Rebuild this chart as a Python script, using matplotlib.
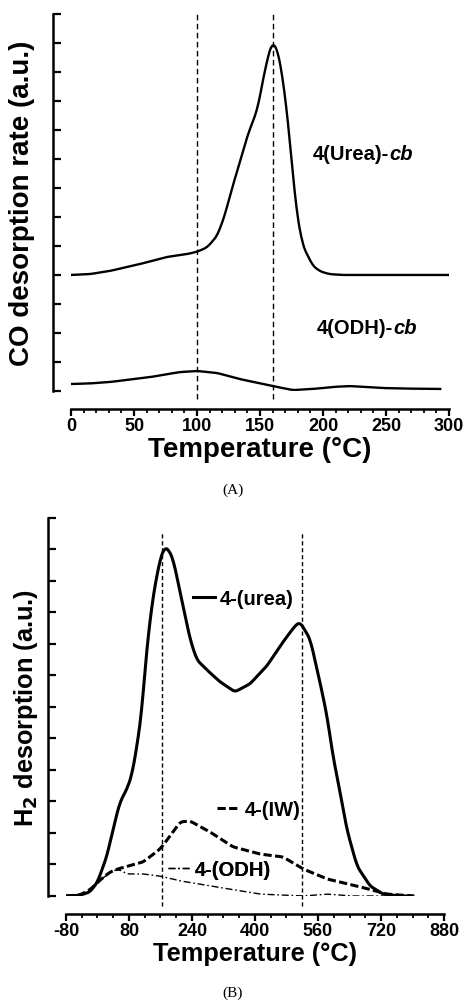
import matplotlib
matplotlib.use('Agg')
from matplotlib import pyplot as plt
import numpy as np

plt.rcParams['font.family'] = ['Liberation Sans', 'DejaVu Sans']
plt.rcParams['font.weight'] = 'bold'
plt.rcParams['axes.unicode_minus'] = False

# ---- panel A: CO desorption ----
t_urea = [0, 15, 31, 55, 76, 92, 100, 108, 116, 122, 126, 134, 140, 148, 154, 159.5, 164.5,
          170, 174, 179, 184, 192, 198, 205, 215, 240, 270, 300]
co_urea = [4.0, 4.03, 4.14, 4.38, 4.62, 4.72, 4.8, 4.95, 5.35, 6.05, 6.72, 7.9, 8.8, 9.72,
           11.1, 12.05, 11.7, 10.17, 8.45, 6.17, 5.0, 4.31, 4.12, 4.03, 4.0, 4.0, 4.0, 4.0]
t_odh = [0, 15, 31, 63, 86, 100, 116, 134, 160, 176, 192, 208, 221, 248, 270, 293]
co_odh = [0.24, 0.26, 0.31, 0.48, 0.65, 0.69, 0.62, 0.41, 0.17, 0.03, 0.07, 0.14, 0.17, 0.1,
          0.08, 0.07]
lines_a = [100, 160]

# ---- panel B: H2 desorption ----
t_b_urea = [-80, -45, -19, 0, 24, 39, 57, 75, 88, 103, 113, 125, 141, 159, 171, 180, 192, 214,
            235, 252, 281, 311, 349, 387, 430, 471, 500, 514, 540, 565, 583, 598, 616, 633,
            659, 692, 725, 768, 801]
h_urea = [0, 0.02, 0.13, 0.44, 1.27, 2.1, 2.98, 3.4, 3.87, 4.98, 5.94, 7.84, 9.5, 10.7, 11.08,
          11.0, 10.7, 9.4, 8.16, 7.5, 7.14, 6.8, 6.48, 6.73, 7.3, 8.06, 8.55, 8.7, 8.16, 6.79,
          5.71, 4.44, 3.3, 2.13, 0.95, 0.32, 0.06, 0.0, 0.0]
t_iw = [-80, -45, -19, 6, 32, 52, 116, 159, 184, 210, 235, 286, 344, 413, 471, 522, 583,
        667, 735, 801]
h_iw = [0, 0.03, 0.2, 0.5, 0.76, 0.86, 1.08, 1.49, 1.9, 2.35, 2.38, 2.03, 1.56, 1.33, 1.24,
        0.86, 0.54, 0.29, 0.06, 0.0]
t_b_odh = [-80, -45, -19, 6, 39, 55, 75, 116, 159, 210, 286, 413, 522, 583, 641, 801]
h_odh = [0, 0.03, 0.16, 0.5, 0.8, 0.84, 0.7, 0.7, 0.63, 0.48, 0.32, 0.06, 0.0, 0.06, 0.0, 0.0]
lines_b = [165, 520]


def smooth(x, y, n=400):
    xs = np.linspace(x[0], x[-1], n)
    ys = np.interp(xs, x, y)
    k = np.ones(7) / 7
    ys = np.convolve(np.pad(ys, 3, mode='edge'), k, mode='valid')
    return xs, ys


def style_axes(ax):
    for s in ['top', 'right']:
        ax.spines[s].set_visible(False)
    for s in ['left', 'bottom']:
        ax.spines[s].set_linewidth(1.8)
    ax.spines['left'].set_position(('outward', 13))
    ax.spines['bottom'].set_position(('outward', 13))
    ax.tick_params(axis='y', direction='in', length=6, width=1.6, labelleft=False)
    ax.tick_params(axis='x', which='major', direction='out', length=5, width=1.6,
                   labelsize=13, pad=1)
    ax.tick_params(axis='x', which='minor', direction='out', length=3, width=1.3)


fig = plt.figure(figsize=(4.66, 10.03), dpi=100)

# panel A
ax1 = fig.add_axes([0.1524, 0.6092, 0.8112, 0.3759])
x, y = smooth(t_urea, co_urea)
ax1.plot(x, y, color='black', lw=1.7)
x, y = smooth(t_odh, co_odh)
ax1.plot(x, y, color='black', lw=1.7)
for v in lines_a:
    ax1.axvline(v, ymin=-0.022, ymax=1.008, color='black', lw=1.0, ls=(0, (4, 2.5)),
                clip_on=False)
ax1.set_xlim(0, 300)
ax1.set_ylim(0, 13)
ax1.set_xticks(np.arange(0, 301, 50))
ax1.set_xticks(np.arange(0, 301, 10), minor=True)
ax1.set_yticks(np.arange(0, 14, 1))
style_axes(ax1)

for label, xpos, ypos in [('4(Urea)-', 192, 8.0), ('4(ODH)-', 195, 2.0)]:
    t1 = ax1.text(xpos, ypos, label, fontsize=14.5, fontweight='bold', ha='left', va='baseline')
    ax1.annotate('cb', xy=(1, 0), xycoords=t1, fontsize=14.5, fontweight='bold',
                 style='italic', ha='left', va='bottom')

ax1.set_xlabel('Temperature (°C)', fontsize=20, fontweight='bold', labelpad=1)
ax1.set_ylabel('CO desorption rate (a.u.)', fontsize=20, fontweight='bold', labelpad=13)

# panel B
ax2 = fig.add_axes([0.1416, 0.1057, 0.8112, 0.3769])
x, y = smooth(t_b_urea, h_urea)
ax2.plot(x, y, color='black', lw=2.2, label='4-(urea)')
x, y = smooth(t_iw, h_iw)
ax2.plot(x, y, color='black', lw=2.2, ls=(0, (2.7, 1.1)), label='4-(IW)')
x, y = smooth(t_b_odh, h_odh)
ax2.plot(x, y, color='black', lw=1.0, ls=(0, (5, 2, 1.2, 2)), label='4-(ODH)')
for v in lines_b:
    ax2.axvline(v, ymin=-0.026, ymax=0.966, color='black', lw=1.0, ls=(0, (3, 2)),
                clip_on=False)
ax2.set_xlim(-80, 880)
ax2.set_ylim(0, 12)
ax2.set_xticks(np.arange(-80, 881, 160))
ax2.set_xticks(np.arange(-80, 881, 40), minor=True)
ax2.set_yticks(np.arange(0, 13, 1))
style_axes(ax2)
ax2.set_xlabel('Temperature (°C)', fontsize=18.3, fontweight='bold', labelpad=1)
ax2.set_ylabel('H$_\\mathbf{2}$ desorption (a.u.)', fontsize=18.3, fontweight='bold',
               labelpad=6)

handles = ax2.get_lines()[:3]
anchors = [(0.336, 0.786), (0.40, 0.228), (0.27, 0.069)]
for h, a in zip(handles, anchors):
    lg = ax2.legend([h], [h.get_label()], loc='center left', bbox_to_anchor=a, frameon=False,
                    handlelength=1.1, handletextpad=0.25, borderpad=0, borderaxespad=0,
                    prop={'size': 14.5, 'weight': 'bold'})
    ax2.add_artist(lg)

fig.text(0.5, 1 - 490 / 1003, '(A)', fontsize=11, family='Liberation Serif',
         fontweight='normal', ha='center', va='center')
fig.text(0.5, 1 - 993 / 1003, '(B)', fontsize=11, family='Liberation Serif',
         fontweight='normal', ha='center', va='center')

fig.savefig('out.png', dpi=100)
